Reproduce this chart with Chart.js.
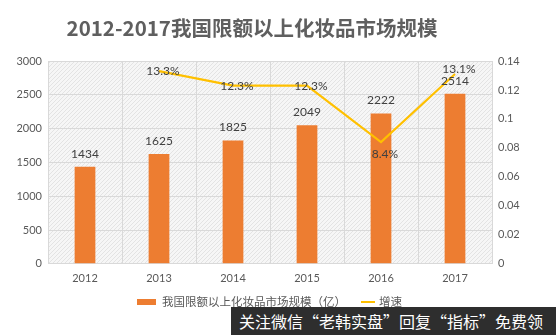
<!DOCTYPE html>
<html><head><meta charset="utf-8">
<script src="https://cdn.jsdelivr.net/npm/chart.js@4/dist/chart.umd.min.js"></script>
<style>
html,body{margin:0;padding:0;background:#fff;}
#wrap{position:relative;width:556px;height:335px;}
#wm{position:absolute;left:231px;top:307px;width:325px;height:28px;background:#2e2e2e;color:#fff;font:16px "Noto Sans CJK SC";line-height:28px;text-indent:8px;white-space:nowrap;overflow:hidden;}
</style></head>
<body>
<div id="wrap"><canvas id="c" width="556" height="335"></canvas><div id="wm">关注微信“老韩实盘”回复“指标”免费领</div></div>
<script>
const categories = ['2012','2013','2014','2015','2016','2017'];
const marketSize = [1434, 1625, 1825, 2049, 2222, 2514];
const growthRate = [null, 0.133, 0.123, 0.123, 0.084, 0.131];
const growthLabels = ['', '13.3%', '12.3%', '12.3%', '8.4%', '13.1%'];
const leftTicks = [0, 500, 1000, 1500, 2000, 2500, 3000];
const rightTicks = [0, 0.02, 0.04, 0.06, 0.08, 0.1, 0.12, 0.14];
const titleText = '2012-2017我国限额以上化妆品市场规模';
const barName = '我国限额以上化妆品市场规模（亿）';
const lineName = '增速';

const FONT = 'Lato, "Noto Sans CJK SC", sans-serif';
const BAR_COLOR = '#ED7D31', LINE_COLOR = '#FFC000';

function makePattern(ctx){
  const p = document.createElement('canvas'); p.width = 4; p.height = 4;
  const x = p.getContext('2d');
  x.fillStyle = '#f6f6f6'; x.fillRect(0,0,4,4);
  x.strokeStyle = '#e3e3e3'; x.lineWidth = 1;
  x.beginPath(); x.moveTo(0,4); x.lineTo(4,0); x.stroke();
  return ctx.createPattern(p, 'repeat');
}

const bgPlugin = {
  id: 'bg',
  beforeDraw(chart){
    const {ctx, chartArea:a} = chart;
    ctx.save(); ctx.fillStyle = makePattern(ctx);
    ctx.fillRect(a.left, a.top, a.right-a.left, a.bottom-a.top);
    ctx.restore();
    ctx.save();
    ctx.font = 'bold 20.5px "Noto Sans CJK SC", sans-serif';
    ctx.fillStyle = '#5f5f5f'; ctx.textAlign = 'center'; ctx.textBaseline = 'middle';
    ctx.fillText(titleText, 252, 28);
    ctx.restore();
  },
  afterDraw(chart){
    const ctx = chart.ctx;
    ctx.save();
    ctx.font = '11.5px ' + FONT; ctx.fillStyle = '#595959';
    ctx.textBaseline = 'middle'; ctx.textAlign = 'left';
    const y = 302;
    let x = 137;
    ctx.fillStyle = BAR_COLOR; ctx.fillRect(x, y - 3, 19, 6);
    x += 25;
    ctx.fillStyle = '#595959'; ctx.fillText(barName, x, y);
    x += ctx.measureText(barName).width + 15;
    ctx.strokeStyle = LINE_COLOR; ctx.lineWidth = 2;
    ctx.beginPath(); ctx.moveTo(x, y); ctx.lineTo(x + 14, y); ctx.stroke();
    x += 18;
    ctx.fillText(lineName, x, y);
    ctx.restore();
  }
};

const lineOffsets = [0, 0, 0, 0, 12, -5];
const labelPlugin = {
  id: 'labels',
  afterDatasetsDraw(chart){
    const ctx = chart.ctx;
    ctx.save();
    ctx.font = '12px ' + FONT; ctx.fillStyle = '#404040';
    ctx.textAlign = 'center'; ctx.textBaseline = 'middle';
    chart.getDatasetMeta(0).data.forEach((el, i) => {
      ctx.fillText(String(marketSize[i]), el.x, el.y - 13);
    });
    chart.getDatasetMeta(1).data.forEach((el, i) => {
      if (growthRate[i] == null) return;
      ctx.fillText(growthLabels[i], el.x + 4, el.y + lineOffsets[i]);
    });
    ctx.restore();
  }
};

new Chart(document.getElementById('c'), {
  data: {
    labels: categories,
    datasets: [
      {type:'bar', label: barName, data: marketSize, backgroundColor:BAR_COLOR, yAxisID:'y', barPercentage:0.56, categoryPercentage:0.5, order:2},
      {type:'line', label: lineName, data: growthRate, borderColor:LINE_COLOR, backgroundColor:LINE_COLOR, borderWidth:2.2, pointRadius:0, yAxisID:'y1', order:1, tension:0}
    ]
  },
  options: {
    responsive:false, animation:false,
    layout:{padding:{left:0,right:0,top:61,bottom:42}},
    plugins:{
      title:{display:false},
      legend:{display:false},
      tooltip:{enabled:false}
    },
    scales:{
      x:{grid:{color:'#d9d9d9', drawTicks:false, offset:true}, border:{display:false}, ticks:{color:'#595959', font:{family:FONT,size:11}, padding:8}},
      y:{position:'left', min:0, max:3000, afterBuildTicks:s=>{s.ticks = leftTicks.map(v=>({value:v}));}, afterFit:s=>{s.width=48;}, grid:{color:'#d9d9d9', drawTicks:false}, border:{display:false}, ticks:{color:'#595959', font:{family:FONT,size:11}, padding:6, callback:v=>String(v)}},
      y1:{position:'right', min:0, max:0.14, afterBuildTicks:s=>{s.ticks = rightTicks.map(v=>({value:v}));}, afterFit:s=>{s.width=64;}, grid:{display:false, drawTicks:false}, border:{display:false}, ticks:{color:'#595959', font:{family:FONT,size:11}, padding:6, callback:v=>String(+v.toFixed(2))}}
    }
  },
  plugins:[bgPlugin, labelPlugin]
});
</script>
</body></html>
